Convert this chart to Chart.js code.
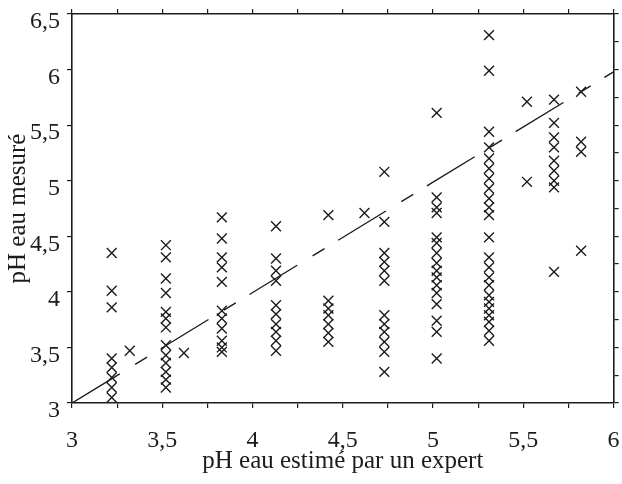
<!DOCTYPE html>
<html>
<head>
<meta charset="utf-8">
<script src="https://cdn.jsdelivr.net/npm/chart.js@4/dist/chart.umd.min.js"></script>
<style>
    html, body { margin: 0; padding: 0; background: #fff; }
    #wrap { width: 622px; height: 484px; }
</style>
</head>
<body>
<div id="wrap"><canvas id="phChart" width="622" height="484"></canvas></div>
<script>
// pH estimated by the expert (x) -> measured pH values (y), one array per column
const col322 = [4.35, 4.01, 3.86, 3.40, 3.32, 3.23, 3.14, 3.05];
const col332 = [3.47];
const col352 = [4.42, 4.31, 4.12, 3.99, 3.82, 3.76, 3.68, 3.52, 3.43, 3.36, 3.28, 3.21, 3.14];
const col362 = [3.45];
const col383 = [4.67, 4.48, 4.31, 4.22, 4.09, 3.83, 3.76, 3.67, 3.56, 3.50, 3.46];
const col413 = [4.59, 4.30, 4.19, 4.10, 3.88, 3.80, 3.71, 3.64, 3.56, 3.47];
const col442 = [4.69, 3.92, 3.85, 3.79, 3.71, 3.63, 3.55];
const col462 = [4.71];
const col473 = [5.08, 4.63, 4.35, 4.27, 4.19, 4.10, 3.79, 3.71, 3.64, 3.55, 3.46, 3.28];
const col502 = [5.61, 4.85, 4.76, 4.71, 4.49, 4.44, 4.35, 4.26, 4.19, 4.13, 4.06, 3.99, 3.89, 3.74, 3.64, 3.40];
const col531 = [6.31, 5.99, 5.44, 5.30, 5.20, 5.11, 5.02, 4.93, 4.84, 4.76, 4.69, 4.49, 4.31, 4.22, 4.13, 4.06, 3.97, 3.91, 3.85, 3.79, 3.73, 3.65, 3.56];
const col552 = [5.71, 4.99];
const col567 = [5.73, 5.52, 5.39, 5.30, 5.18, 5.09, 5.00, 4.94, 4.18];
const col582 = [5.80, 5.35, 5.26, 4.37];

const estimated = [3.22, 3.32, 3.52, 3.62, 3.83, 4.13, 4.42, 4.62, 4.73, 5.02, 5.31, 5.52, 5.67, 5.82];
const measured = [col322, col332, col352, col362, col383, col413, col442, col462, col473, col502, col531, col552, col567, col582];

// dashed trend line (estimated = measured)
const lineX = [3, 6];
const lineY = [3.0, 5.98];

const xTitle = 'pH eau estimé par un expert';
const yTitle = 'pH eau mesuré';

const ink = '#1c1c1c';
const serif = "'Liberation Serif', 'DejaVu Serif', serif";

function commaLabel(v) {
    const r = Math.round(v * 4) / 4;
    if (Math.abs(r * 2 - Math.round(r * 2)) > 1e-6) return '';
    return String(r).replace('.', ',');
}

const points = [];
estimated.forEach((x, i) => {
    measured[i].forEach(y => points.push({ x: x, y: y }));
});

const trend = lineX.map((x, i) => ({ x: x, y: lineY[i] }));

const gridOpts = {
    display: true,
    drawOnChartArea: false,
    drawTicks: true,
    tickLength: 5,
    color: ink,
    lineWidth: 1.2
};
const borderOpts = { display: true, color: ink, width: 1.6 };

// label overhang would shrink the plot box, the reference box runs to the edges
function noOverhang(scale) {
    scale.paddingLeft = 0;
    scale.paddingRight = 0;
    scale.paddingTop = 0;
    scale.paddingBottom = 0;
}

new Chart(document.getElementById('phChart').getContext('2d'), {
    type: 'scatter',
    data: {
        datasets: [
            {
                label: 'mesures',
                data: points,
                pointStyle: 'crossRot',
                pointRadius: 7,
                pointBorderWidth: 1.4,
                borderColor: ink,
                backgroundColor: ink
            },
            {
                type: 'line',
                label: 'tendance',
                data: trend,
                borderColor: ink,
                borderWidth: 1.4,
                borderDash: [56, 18, 14, 16],
                pointRadius: 0,
                fill: false,
                tension: 0
            }
        ]
    },
    options: {
        responsive: false,
        animation: false,
        events: [],
        layout: { padding: 0 },
        plugins: {
            legend: { display: false },
            tooltip: { enabled: false }
        },
        scales: {
            x: {
                type: 'linear',
                position: 'bottom',
                min: 3,
                max: 6,
                grid: gridOpts,
                border: borderOpts,
                ticks: {
                    stepSize: 0.25,
                    autoSkip: false,
                    maxRotation: 0,
                    padding: 18,
                    color: ink,
                    font: { family: serif, size: 24 },
                    callback: v => commaLabel(v)
                },
                title: {
                    display: true,
                    text: xTitle,
                    color: ink,
                    font: { family: serif, size: 25 },
                    padding: { top: 0, bottom: 8 }
                },
                afterFit: scale => { scale.height = 81; noOverhang(scale); }
            },
            x2: {
                type: 'linear',
                position: 'top',
                min: 3,
                max: 6,
                grid: gridOpts,
                border: borderOpts,
                ticks: { stepSize: 0.25, autoSkip: false, display: false },
                afterFit: scale => { scale.height = 14; noOverhang(scale); }
            },
            y: {
                type: 'linear',
                position: 'left',
                min: 3,
                max: 6.5,
                grid: gridOpts,
                border: borderOpts,
                ticks: {
                    stepSize: 0.5,
                    autoSkip: false,
                    padding: 7,
                    labelOffset: 8,
                    color: ink,
                    font: { family: serif, size: 24 },
                    callback: v => commaLabel(v)
                },
                title: {
                    display: true,
                    text: yTitle,
                    color: ink,
                    font: { family: serif, size: 25 },
                    padding: { top: 3, bottom: 0 }
                },
                afterFit: scale => { scale.width = 72; noOverhang(scale); }
            },
            y2: {
                type: 'linear',
                position: 'right',
                min: 3,
                max: 6.5,
                grid: gridOpts,
                border: borderOpts,
                ticks: { stepSize: 0.25, autoSkip: false, display: false },
                afterFit: scale => { scale.width = 5; noOverhang(scale); }
            }
        }
    }
});
</script>
</body>
</html>
